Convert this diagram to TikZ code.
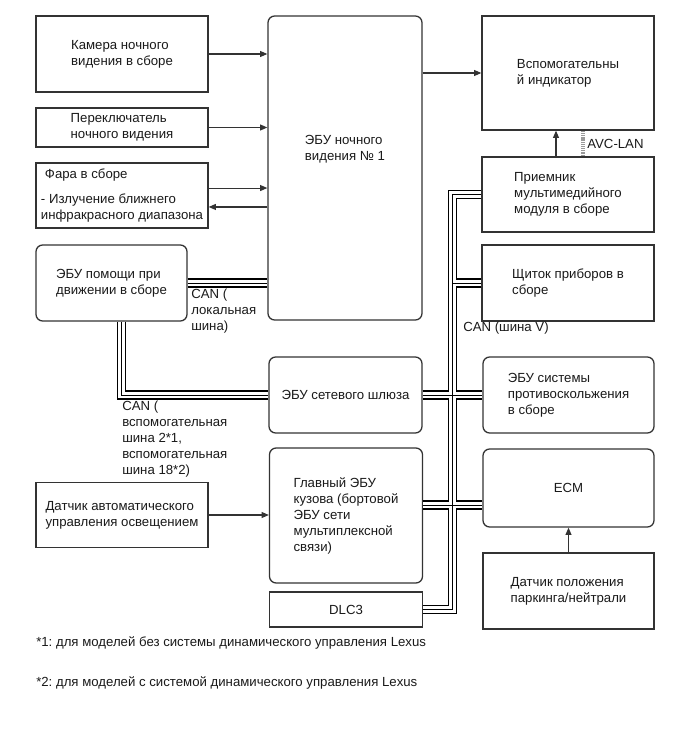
\documentclass[tikz,border=0pt]{standalone}
\usepackage{fontspec}
\setmainfont{Liberation Sans}
\usetikzlibrary{arrows.meta,calc,positioning}
\definecolor{nvink}{HTML}{1A1A1A}
\definecolor{nvline}{HTML}{333333}
\definecolor{nvhatch}{HTML}{9A9A9A}
\frenchspacing

\begin{document}
\begin{tikzpicture}[x=0.75pt,y=-0.75pt,text=nvink,
  font=\fontsize{9.9}{12}\selectfont,
  plainbox/.style={draw=nvline,line width=0.95pt,align=left,inner sep=2pt},
  ecubox/.style={plainbox,rounded corners=5pt},
  sigarrow/.style={draw=nvline,line width=0.8pt,-{Triangle[length=5.5pt,width=4.5pt]}},
  canbus/.style={draw=black,line width=7pt,
    postaction={draw=white,line width=5.2pt},
    postaction={draw=black,line width=0.7pt}},
  avclan/.style={draw=nvhatch,line width=3.5pt,dash pattern=on 0.8pt off 0.6pt},
  buslabel/.style={anchor=north west,inner sep=0pt,align=left}]
  \fill[white] (0,0) rectangle (690,756);
  \path[use as bounding box] (0,0) rectangle (690,756);

  % left column
  \node[plainbox,minimum width=129pt,minimum height=57pt] (cam) at (122,54)
    {Камера ночного\\видения в сборе};
  \node[plainbox,minimum width=129pt,minimum height=29.25pt] (sw) at (122,127.5)
    {Переключатель\\ночного видения};
  \node[plainbox,minimum width=129pt,minimum height=48.75pt] (head) at (122,195.5)
    {\hspace{3pt}Фара в сборе\\[7pt]- Излучение ближнего\\инфракрасного диапазона};
  \node[ecubox,minimum width=113.25pt,minimum height=57pt] (assist) at (111.5,283)
    {ЭБУ помощи при\\движении в сборе};
  \node[plainbox,minimum width=129pt,minimum height=48.75pt] (light) at (122,515)
    {Датчик автоматического\\управления освещением};

  % middle column
  \node[ecubox,minimum width=115.5pt,minimum height=228pt] (nv) at (345,168) {};
  \node[align=left,inner sep=0pt] (nvtext) at ([yshift=14pt]nv.center)
    {ЭБУ ночного\\видения № 1};
  \node[ecubox,minimum width=114.75pt,minimum height=57pt] (gw) at (345.5,395)
    {ЭБУ сетевого шлюза};
  \node[ecubox,minimum width=114.75pt,minimum height=101.25pt] (body) at (346,515.5)
    {Главный ЭБУ\\кузова (бортовой\\ЭБУ сети\\мультиплексной\\связи)};
  \node[plainbox,minimum width=114.75pt,minimum height=26.25pt] (dlc) at (346,609.5)
    {DLC3};

  % right column
  \node[plainbox,minimum width=129pt,minimum height=85.5pt] (aux) at (568,73)
    {Вспомогательны\\й индикатор};
  \node[plainbox,minimum width=129pt,minimum height=56.25pt] (mmr) at (568,194.5)
    {Приемник\\мультимедийного\\модуля в сборе};
  \node[plainbox,minimum width=129pt,minimum height=57pt] (cluster) at (568,283)
    {Щиток приборов в\\сборе};
  \node[ecubox,minimum width=128.25pt,minimum height=57pt] (col) at (568.5,395)
    {ЭБУ системы\\противоскольжения\\в сборе};
  \node[ecubox,minimum width=128.25pt,minimum height=58.5pt] (ecm) at (568.5,488)
    {ECM};
  \node[plainbox,minimum width=128.25pt,minimum height=57pt] (park) at (568.5,591)
    {Датчик положения\\паркинга/нейтрали};

  % signal wires
  \foreach \src in {cam,sw}
    {\draw[sigarrow] (\src.east) -- (\src.east -| nv.west);}
  \draw[sigarrow] ([yshift=5.6pt]head.east) -- ([yshift=5.6pt]head.east -| nv.west);
  \draw[sigarrow] ([yshift=-8.6pt]head.east -| nv.west) -- ([yshift=-8.6pt]head.east);
  \draw[sigarrow] (nv.east |- aux.west) -- (aux.west);
  \draw[sigarrow] ([xshift=-9pt]mmr.north) -- ([xshift=-9pt]aux.south);
  \draw[avclan] ([xshift=11.25pt]mmr.north) -- ([xshift=11.25pt]aux.south)
    node[midway,right=1.5pt,inner sep=0pt] (avclbl) {AVC-LAN};
  \draw[sigarrow] (light.east) -- (light.east -| body.west);
  \draw[sigarrow] (park.north) -- (ecm.south);

  % CAN lines
  \coordinate (trunk) at ($(gw.east)!0.5!(col.west)$);
  \coordinate (jb) at (452,505);
  \draw[canbus] (assist.east) -- (assist.east -| nv.west);
  \draw[canbus] ([xshift=7.5pt]assist.south) |- (gw.west);
  \draw[canbus] (mmr.west) -| (trunk |- dlc.east) -- (dlc.east)
    (cluster.west) -- (trunk |- cluster.west)
    (gw.east) -- (col.west)
    (body.east |- jb) -- (ecm.west |- jb);

  \node[buslabel] (canlocal) at (191,289) {CAN (\\локальная\\шина)};
  \node[buslabel] (canaux) at (122,401)
    {CAN (\\вспомогательная\\шина 2*1,\\вспомогательная\\шина 18*2)};
  \node[anchor=west,inner sep=0pt] (canv) at (463,328) {CAN (шина V)};

  \node[anchor=west,inner sep=0pt] (fn1) at (36,643)
    {*1: для моделей без системы динамического управления Lexus};
  \node[anchor=west,inner sep=0pt] (fn2) at (36,683)
    {*2: для моделей с системой динамического управления Lexus};
\end{tikzpicture}
\end{document}
